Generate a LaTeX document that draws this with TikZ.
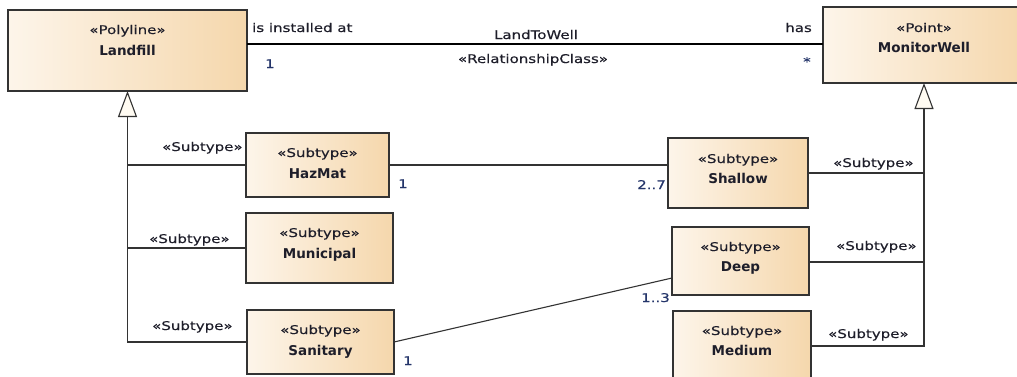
\documentclass[tikz,border=0pt]{standalone}
\usepackage{fontspec}
\setmainfont{DejaVu Sans}[FakeStretch=1.25, FakeBold=0.35]
\newfontfamily\namefont{DejaVu Sans Bold}
\usetikzlibrary{arrows.meta,calc}
\definecolor{boxL}{HTML}{FDF5EA}
\definecolor{boxR}{HTML}{F5D7AC}
\definecolor{edge}{HTML}{333333}
\definecolor{txt}{HTML}{1E1E2A}
\definecolor{mult}{HTML}{24356A}
\definecolor{trifill}{HTML}{FFFBF2}
\tikzset{
  cls/.style={rectangle, draw=edge, line width=1.3pt, left color=boxL, right color=boxR,
    inner sep=0pt, outer sep=0pt, anchor=north west},
  stereo/.style={font=\fontsize{12}{14}\selectfont, text=txt, inner sep=0pt, anchor=base},
  cname/.style={font=\namefont\fontsize{13.5}{15}\selectfont, text=txt, inner sep=0pt, anchor=base},
  lbl/.style={font=\fontsize{12}{14}\selectfont, text=txt, inner sep=0pt, anchor=base west},
  mlt/.style={lbl, text=mult},
  conn/.style={draw=edge, line width=1.1pt},
  gen/.style={conn, -{Triangle[length=26pt,width=19pt,fill=trifill,line width=1.1pt]}},
  assoc/.style={draw=black, line width=2.5pt},
}
\begin{document}
\begin{tikzpicture}[x=1pt,y=-1pt]
\useasboundingbox (0,0) rectangle (1017,376);
\fill[white] (0,0) rectangle (1017,376);

% classes
\node[cls, minimum width=239pt, minimum height=81pt] (landfill) at (8,10) {};
\node[cls, minimum width=202pt, minimum height=76pt] (well) at (823,7) {};
\node[cls, minimum width=143pt, minimum height=64pt] (hazmat) at (246,133) {};
\node[cls, minimum width=147pt, minimum height=70pt] (municipal) at (246,213) {};
\node[cls, minimum width=147pt, minimum height=64pt] (sanitary) at (247,310) {};
\node[cls, minimum width=140pt, minimum height=70pt] (shallow) at (668,138) {};
\node[cls, minimum width=137pt, minimum height=68pt] (deep) at (672,227) {};
\node[cls, minimum width=138pt, minimum height=70pt] (medium) at (673,311) {};

% class texts
\node[stereo] (landfillS) at ([yshift=-24pt]landfill.north) {«Polyline»};
\node[cname]  (landfillN) at ([yshift=-45pt]landfill.north) {Landfill};
\node[stereo] (wellS) at ([yshift=-25pt]well.north) {«Point»};
\node[cname]  (wellN) at ([yshift=-45pt]well.north) {MonitorWell};
\node[stereo] (hazmatS) at ([yshift=-24pt]hazmat.north) {«Subtype»};
\node[cname]  (hazmatN) at ([yshift=-45pt]hazmat.north) {HazMat};
\node[stereo] (municipalS) at ([yshift=-24pt]municipal.north) {«Subtype»};
\node[cname]  (municipalN) at ([yshift=-45pt]municipal.north) {Municipal};
\node[stereo] (sanitaryS) at ([yshift=-24pt]sanitary.north) {«Subtype»};
\node[cname]  (sanitaryN) at ([yshift=-45pt]sanitary.north) {Sanitary};
\node[stereo] (shallowS) at ([yshift=-25pt]shallow.north) {«Subtype»};
\node[cname]  (shallowN) at ([yshift=-45pt]shallow.north) {Shallow};
\node[stereo] (deepS) at ([yshift=-24pt]deep.north) {«Subtype»};
\node[cname]  (deepN) at ([yshift=-44pt]deep.north) {Deep};
\node[stereo] (mediumS) at ([yshift=-24pt]medium.north) {«Subtype»};
\node[cname]  (mediumN) at ([yshift=-44pt]medium.north) {Medium};

% association
\draw[assoc] ([yshift=-34pt]landfill.north east) -- ([yshift=-37pt]well.north west);
\node[lbl] (instlbl) at (252,32) {is installed at};
\node[mlt] (mone) at (265,68) {1};
\node[stereo] (assocname) at (536,39) {LandToWell};
\node[stereo] (assocst) at (533,63) {«RelationshipClass»};
\node[lbl, anchor=base east] (haslbl) at (812,32) {has};
\node[mlt] (mstar) at (803,66) {*};

% generalizations left
\draw[gen] (sanitary.west) -| (landfill.south);
\draw[conn] (hazmat.west) -- (hazmat.west -| landfill.south);
\draw[conn] (municipal.west) -- (municipal.west -| landfill.south);
\node[lbl] (gl1) at (162,151) {«Subtype»};
\node[lbl] (gl2) at (149,243) {«Subtype»};
\node[lbl] (gl3) at (152,330) {«Subtype»};

% generalizations right
\draw[gen] (medium.east) -| (well.south);
\draw[conn] (shallow.east) -- (shallow.east -| well.south);
\draw[conn] ([yshift=-1pt]deep.east) -- ([yshift=-1pt]deep.east -| well.south);
\node[lbl] (gr1) at (833,167) {«Subtype»};
\node[lbl] (gr2) at (836,250) {«Subtype»};
\node[lbl] (gr3) at (828,338) {«Subtype»};

% other associations
\draw[conn] (hazmat.east) -- (hazmat.east -| shallow.west);
\draw[conn] (sanitary.east) -- ([yshift=17pt]deep.south west);
\node[mlt] (mh) at (398,188) {1};
\node[mlt] (msh) at (637,189) {2..7};
\node[mlt] (ms) at (403,365) {1};
\node[mlt] (md) at (641,302) {1..3};
\end{tikzpicture}
\end{document}
